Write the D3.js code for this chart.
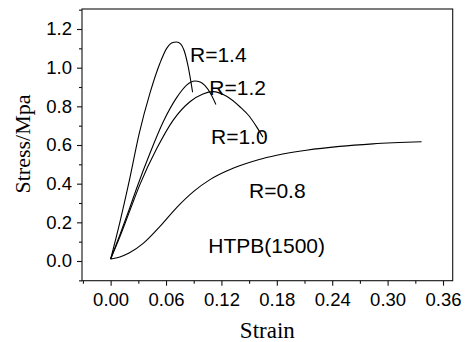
<!DOCTYPE html>
<html><head><meta charset="utf-8">
<script src="https://cdn.jsdelivr.net/npm/d3@7"></script>
<style>
html,body{margin:0;padding:0;background:#fff;}
svg{display:block;}
</style></head>
<body>
<svg id="chart" width="467" height="342"></svg>
<script>
// ---- data (strain, stress in MPa) ----
const seriesR14 = [[0,0.01],[0.01,0.2],[0.02,0.41],[0.031,0.66],[0.0426,0.868],[0.0534,1.023],[0.0607,1.10],[0.066,1.127],[0.0715,1.133],[0.076,1.122],[0.0795,1.09],[0.084,1.005],[0.0888,0.873]];
const seriesR12 = [[0,0.01],[0.01,0.135],[0.02,0.265],[0.0281,0.375],[0.0426,0.557],[0.057,0.72],[0.0715,0.845],[0.0823,0.91],[0.0913,0.931],[0.097,0.926],[0.102,0.908],[0.109,0.86],[0.114,0.81]];
const seriesR10 = [[0,0.01],[0.01,0.125],[0.02,0.25],[0.0317,0.395],[0.0498,0.58],[0.0678,0.729],[0.0859,0.824],[0.1,0.864],[0.111,0.876],[0.1256,0.852],[0.14,0.798],[0.15,0.75],[0.158,0.695],[0.165,0.64]];
const seriesR08 = [[0,0.01],[0.01,0.021],[0.02,0.041],[0.0353,0.091],[0.055,0.187],[0.0715,0.276],[0.09,0.36],[0.1076,0.421],[0.125,0.464],[0.1436,0.499],[0.16,0.524],[0.18,0.547],[0.212,0.573],[0.248,0.593],[0.284,0.606],[0.3368,0.617]];
const seriesNames = ["R=1.4","R=1.2","R=1.0","R=0.8"];
const xTicks = [0,0.06,0.12,0.18,0.24,0.30,0.36];
const xMinorTicks = [-0.03,0.03,0.09,0.15,0.21,0.27,0.33];
const yTicks = [0,0.2,0.4,0.6,0.8,1.0,1.2];
const yMinorTicks = [-0.1,0.1,0.3,0.5,0.7,0.9,1.1,1.3];
const xTitle = "Strain";
const yTitle = "Stress/Mpa";
const sampleLabel = "HTPB(1500)";

// ---- layout ----
const L = 82, R = 452.7, T = 9, B = 280.7;
const svg = d3.select("#chart");
const x = d3.scaleLinear().domain([-0.031, 0.3705]).range([L, R]);
const y = d3.scaleLinear().domain([-0.1019, 1.3035]).range([B, T]);

const tickFont = "'Liberation Sans', Arial, sans-serif";
const serif = "'Liberation Serif', 'Times New Roman', serif";

// frame
svg.append("rect").attr("x", L).attr("y", T).attr("width", R - L).attr("height", B - T)
  .attr("fill", "none").attr("stroke", "#111").attr("stroke-width", 1.1);

// minor ticks
svg.append("g").attr("transform", `translate(0,${B})`)
  .call(d3.axisBottom(x).tickValues(xMinorTicks).tickSize(3).tickFormat(""))
  .call(g => g.select(".domain").remove());
svg.append("g").attr("transform", `translate(${L},0)`)
  .call(d3.axisLeft(y).tickValues(yMinorTicks).tickSize(3).tickFormat(""))
  .call(g => g.select(".domain").remove());

// major axes
const xAxis = svg.append("g").attr("transform", `translate(0,${B})`)
  .call(d3.axisBottom(x).tickValues(xTicks).tickSize(5).tickPadding(7.5).tickFormat(d3.format(".2f")));
xAxis.select(".domain").remove();
const yAxis = svg.append("g").attr("transform", `translate(${L},0)`)
  .call(d3.axisLeft(y).tickValues(yTicks).tickSize(5).tickPadding(5).tickFormat(d3.format(".1f")));
yAxis.select(".domain").remove();
svg.selectAll(".tick line").attr("stroke", "#111").attr("stroke-width", 1.1);
svg.selectAll(".tick text").attr("font-family", tickFont).attr("font-size", 18.5).attr("fill", "#000");

// clip
svg.append("clipPath").attr("id", "clip").append("rect")
  .attr("x", L).attr("y", T).attr("width", R - L).attr("height", B - T);

const line = d3.line().x(d => x(d[0])).y(d => y(d[1])).curve(d3.curveMonotoneX);
const allSeries = [seriesR14, seriesR12, seriesR10, seriesR08];
svg.append("g").attr("clip-path", "url(#clip)").selectAll("path").data(allSeries).join("path")
  .attr("d", line).attr("fill", "none").attr("stroke", "#000").attr("stroke-width", 1.1);

// labels
const labelPos = [[190, 61.7], [209.3, 95], [211, 143.5], [249, 198.3]];
svg.selectAll("text.lab").data(seriesNames).join("text").attr("class", "lab")
  .attr("x", (d, i) => labelPos[i][0]).attr("y", (d, i) => labelPos[i][1])
  .attr("font-family", tickFont).attr("font-size", 21).attr("fill", "#000").text(d => d);
svg.append("text").attr("x", 208.3).attr("y", 252.5)
  .attr("font-family", tickFont).attr("font-size", 21).attr("fill", "#000").text(sampleLabel);

// titles
svg.append("text").attr("x", (L + R) / 2).attr("y", 337.5).attr("text-anchor", "middle")
  .attr("font-family", serif).attr("font-size", 23).attr("fill", "#000").text(xTitle);
svg.append("text").attr("transform", `translate(29.5,144) rotate(-90)`)
  .attr("text-anchor", "middle")
  .attr("font-family", serif).attr("font-size", 22).attr("fill", "#000").text(yTitle);
</script>
</body></html>
